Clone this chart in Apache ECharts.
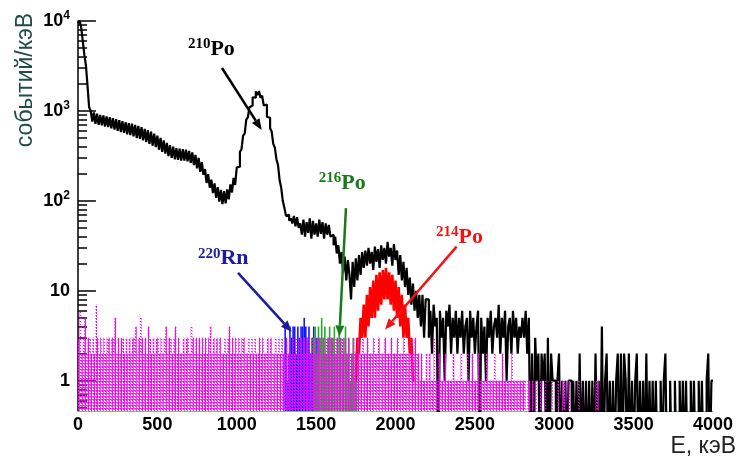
<!DOCTYPE html>
<html>
<head>
<meta charset="utf-8">
<script src="https://cdn.jsdelivr.net/npm/echarts@6/dist/echarts.min.js"></script>
<style>
  html, body { margin: 0; padding: 0; background: #fff; }
  #main { width: 740px; height: 463px; }
</style>
</head>
<body>
<div id="main"></div>
<script>
// ширина бина, кэВ
var binW = 10;

// чёрная гистограмма (все события), бины по 10 кэВ от 0
var blackCounts = [
  9500, 10000, 8500, 6000, 4200, 3200, 1900, 1100, 1000, 760, 960, 720, 930, 700, 900, 690, 890, 670, 870, 660,
  850, 640, 830, 620, 810, 600, 790, 580, 770, 570, 750, 550, 730, 540, 720, 520, 700, 500, 680, 490,
  660, 470, 630, 450, 610, 430, 590, 410, 560, 395, 530, 370, 500, 350, 470, 335, 440, 315, 415, 300,
  400, 290, 385, 285, 380, 280, 375, 280, 370, 275, 360, 265, 345, 250, 325, 230, 300, 210, 270, 195,
  225, 158, 198, 140, 172, 122, 156, 108, 142, 98, 132, 92, 128, 94, 134, 104, 152, 124, 180, 150,
  235, 240, 350, 375, 530, 560, 800, 850, 1100, 1150, 1420, 1400, 1650, 1500, 1660, 1400, 1480, 1150, 1180, 860,
  840, 640, 590, 430, 390, 290, 250, 170, 140, 100, 84, 68, 70, 60, 64, 56, 68, 52, 66, 50,
  56, 42, 62, 40, 58, 44, 64, 38, 60, 42, 56, 40, 62, 43, 58, 38, 56, 42, 54, 40,
  42, 32, 40, 26, 32, 20, 27, 16, 24, 13, 22, 15, 8, 21, 11, 23, 13, 25, 15, 27,
  18, 28, 19, 30, 20, 27, 17, 31, 21, 29, 18, 32, 22, 30, 20, 35, 24, 30, 19, 33,
  22, 28, 15, 25, 13, 21, 11, 18, 9, 14, 7, 12, 6, 10, 5, 9, 4, 9, 3, 8,
  8, 3, 6, 2, 7, 4, 5, 0, 6, 3, 5, 1, 6, 4, 7, 2, 5, 3, 6, 2,
  5, 3, 6, 2, 4, 5, 1, 6, 3, 5, 2, 4, 6, 0, 5, 2, 4, 1, 5, 3,
  6, 2, 4, 5, 3, 7, 2, 5, 3, 6, 1, 4, 5, 2, 6, 3, 5, 2, 4, 3,
  5, 3, 6, 2, 5, 0, 2, 0, 3, 1, 2, 0, 2, 1, 2, 0, 3, 0, 2, 1,
  1, 0, 1, 2, 0, 1, 0, 1, 0, 1, 1, 0, 1, 0, 1, 0, 2, 0, 1, 0,
  1, 0, 1, 0, 1, 0, 2, 0, 1, 0, 4, 0, 1, 2, 0, 1, 0, 1, 0, 1,
  2, 0, 2, 0, 2, 1, 0, 2, 0, 1, 0, 1, 2, 0, 1, 0, 1, 0, 2, 0,
  1, 0, 1, 0, 1, 0, 0, 1, 0, 1, 2, 0, 0, 1, 0, 0, 1, 0, 0, 1,
  0, 1, 0, 1, 0, 0, 1, 0, 1, 0, 0, 1, 0, 1, 0, 0, 1, 2, 0, 1
];

// розовая (точечная) гистограмма, от 0
var magentaCounts = [
  3, 6, 2, 3, 5, 2, 3, 3, 2, 3, 2, 7, 3, 2, 3, 2, 3, 2, 3, 3,
  2, 3, 3, 5, 2, 3, 2, 3, 3, 2, 3, 2, 3, 2, 3, 3, 4, 2, 3, 5,
  3, 2, 3, 2, 4, 3, 2, 3, 2, 3, 3, 2, 3, 2, 3, 4, 2, 3, 3, 2,
  3, 4, 2, 3, 2, 2, 3, 2, 3, 3, 2, 4, 3, 2, 3, 2, 3, 2, 3, 2,
  3, 2, 3, 4, 2, 3, 2, 3, 2, 3, 2, 2, 3, 2, 3, 4, 2, 3, 2, 3,
  2, 3, 2, 3, 3, 2, 2, 3, 2, 3, 2, 3, 2, 2, 3, 2, 3, 2, 2, 3,
  2, 3, 2, 2, 3, 2, 3, 2, 3, 2, 2, 3, 2, 3, 2, 3, 2, 3, 2, 3,
  3, 2, 3, 2, 3, 3, 2, 3, 2, 3, 2, 3, 3, 2, 3, 2, 3, 3, 2, 3,
  3, 2, 3, 3, 2, 3, 3, 2, 3, 2, 3, 2, 2, 3, 2, 2, 3, 2, 2, 3,
  2, 2, 3, 2, 2, 2, 3, 2, 2, 3, 2, 2, 2, 3, 2, 2, 2, 3, 2, 2,
  2, 3, 2, 2, 2, 3, 2, 2, 2, 3, 2, 2, 3, 2, 2, 1, 2, 1, 1, 2,
  1, 2, 1, 1, 3, 1, 1, 2, 1, 1, 1, 2, 1, 1, 1, 1, 2, 1, 1, 1,
  1, 2, 1, 1, 1, 2, 1, 1, 2, 1, 1, 1, 2, 1, 1, 1, 1, 2, 1, 1,
  1, 1, 2, 1, 1, 1, 1, 2, 1, 1, 1, 1, 1, 2, 1, 1, 1, 1, 1, 1,
  1, 1, 0, 1, 1, 0, 1, 0, 1, 0, 0, 1, 0, 0, 1, 0, 0, 0, 1, 0,
  0, 0, 1, 0, 0, 1, 1, 0, 0, 1, 0, 0, 0, 0, 0, 1, 0, 0, 0, 0,
  0, 0, 0, 0, 0, 0, 1, 1, 0, 0
];

// 220Rn (синяя), 216Po (зелёная), 214Po (красная)
var blueStart = 1300;
var blueCounts = [4, 1, 2, 4, 3, 4, 4, 2, 4, 3, 4, 4, 5, 4, 3, 4, 2, 3, 4, 2, 3, 1];
var greenStart = 1480;
var greenCounts = [3, 4, 2, 4, 3, 5, 3, 4, 2, 3, 4, 3, 3, 4, 2, 3, 4, 3, 2, 3, 4, 2, 3, 1, 2, 3, 1, 2];
var redStart = 1750;
var redCounts = [1, 3, 2, 5, 3, 7, 3, 9, 4, 11, 5, 13, 5, 15, 6, 16, 7, 17, 8, 18,
                 8, 16, 7, 15, 6, 13, 5, 11, 4, 9, 3, 7, 3, 5, 2, 3, 1];

// деления логарифмической оси Y
var yMajorTicks = [1, 10, 100, 1000, 10000];
var yMinorTicks = [0.5, 0.6, 0.7, 0.8, 0.9, 2, 3, 4, 5, 6, 7, 8, 9,
                   20, 30, 40, 50, 60, 70, 80, 90, 200, 300, 400, 500, 600, 700, 800, 900,
                   2000, 3000, 4000, 5000, 6000, 7000, 8000, 9000];
// длина делений по оси X, кэВ (≈18 и ≈9 пикселей)
var majorTickLen = 113;
var minorTickLen = 57;

// подписи и стрелки (в координатах графика: кэВ, событий/кэВ)
var labelNums = ['210', '220', '216', '214'];
var labelNames = ['Po', 'Rn', 'Po', 'Po'];
var labelColors = ['#000000', '#1c1ca0', '#1a7a1a', '#f01414'];
var labelAt = [[840, 4890], [915, 22.7], [1665, 158], [2403, 39.8]];
var arrowFrom = [[907, 3000], [1008, 15.8], [1688, 83], [2385, 31]];
var arrowTo = [[1157, 615], [1346, 3.5], [1646, 3.1], [1934, 3.7]];

var font = 'Arial, "Liberation Sans", sans-serif';
var serif = '"Times New Roman", "Liberation Serif", serif';

// нули на логарифмической оси уводим ниже нижней границы
function lo(v) { return v > 0 ? v : 0.1; }

function stepData(start, counts) {
  var d = counts.map(function (c, i) { return [start + i * binW, lo(c)]; });
  d.push([start + counts.length * binW, lo(counts[counts.length - 1])]);
  return d;
}

// точечная заливка для розовой гистограммы
var cnv = document.createElement('canvas');
cnv.width = 3; cnv.height = 3;
var cx = cnv.getContext('2d');
cx.fillStyle = '#ff00ff';
cx.fillRect(0, 0, 3, 1);
cx.fillRect(0, 1, 2, 1);
cx.fillRect(1, 2, 1, 1);
var magentaFill = { image: cnv, repeat: 'repeat' };

function barSeries(name, start, counts, fill, z) {
  return {
    type: 'custom',
    name: name,
    z: z,
    clip: true,
    data: counts.map(function (c, i) { return [start + i * binW, c]; }),
    renderItem: function (params, api) {
      var c = api.value(1);
      if (!(c > 0)) return null;
      var x0 = api.value(0);
      var p = api.coord([x0, c]);
      var p2 = api.coord([x0 + binW, c]);
      var bottom = params.coordSys.y + params.coordSys.height;
      return {
        type: 'rect',
        shape: { x: p[0], y: p[1], width: p2[0] - p[0], height: bottom - p[1] },
        style: { fill: fill }
      };
    }
  };
}

// деления оси Y — отрезки markLine в координатах графика
var tickLines = yMajorTicks.map(function (v) { return [{ coord: [0, v] }, { coord: [majorTickLen, v] }]; })
  .concat(yMinorTicks.map(function (v) { return [{ coord: [0, v] }, { coord: [minorTickLen, v] }]; }));

var chart = echarts.init(document.getElementById('main'));

chart.setOption({
  animation: false,
  backgroundColor: '#fff',
  grid: { left: 78, right: 27, top: 21, bottom: 52 },
  xAxis: {
    type: 'value',
    min: 0,
    max: 4000,
    interval: 500,
    axisLine: { show: true, lineStyle: { color: '#7ac27a', width: 1 } },
    axisTick: { show: false },
    splitLine: { show: false },
    axisLabel: {
      color: '#000', fontSize: 18, fontWeight: 'bold', fontFamily: font, margin: 5,
      formatter: function (v) { return String(v); }
    }
  },
  yAxis: {
    type: 'log',
    logBase: 10,
    min: 0.46,
    max: 10000,
    axisLine: { show: true, lineStyle: { color: '#000', width: 1.5 } },
    axisTick: { show: false },
    minorTick: { show: false },
    splitLine: { show: false },
    axisLabel: {
      color: '#000', fontSize: 18, fontWeight: 'bold', fontFamily: font, margin: 8,
      formatter: function (v) {
        var l = Math.log10(v), e = Math.round(l);
        if (Math.abs(l - e) > 1e-6) return '';
        if (e === 0) return '1';
        if (e === 1) return '10';
        return '10{s|' + e + '}';
      },
      rich: { s: { fontSize: 12, fontWeight: 'bold', fontFamily: font, color: '#000', verticalAlign: 'top', lineHeight: 22 } }
    }
  },
  series: [
    {
      type: 'line', name: 'все', step: 'end', z: 2, showSymbol: false, silent: true,
      lineStyle: { color: '#000', width: 2.2 },
      data: stepData(0, blackCounts)
    },
    barSeries('220Rn', blueStart, blueCounts, '#1414ff', 3),
    barSeries('216Po', greenStart, greenCounts, '#2aa82a', 3),
    {
      type: 'line', name: '214Po', step: 'end', z: 4, showSymbol: false, silent: true,
      lineStyle: { color: '#ff0000', width: 2.6 },
      data: stepData(redStart, redCounts)
    },
    barSeries('фон', 0, magentaCounts, magentaFill, 5),
    {
      type: 'line', name: 'деления', z: 9, showSymbol: false, silent: true,
      data: [],
      markLine: {
        silent: true,
        symbol: ['none', 'none'],
        animation: false,
        label: { show: false },
        emphasis: { disabled: true },
        lineStyle: { color: '#000', width: 1.5, type: 'solid' },
        data: tickLines
      }
    }
  ]
});

// подписи осей, изотопы и стрелки
var toPx = function (pt) { return chart.convertToPixel({ xAxisIndex: 0, yAxisIndex: 0 }, pt); };
var g = [];

g.push({
  type: 'text', x: 26, y: 80, rotation: Math.PI / 2, z: 10,
  style: { text: 'событий/кэВ', font: '23px ' + font, fill: '#234b48', align: 'center', verticalAlign: 'middle' }
});
g.push({
  type: 'text', x: 736, y: 447, z: 10,
  style: { text: 'E, кэВ', font: '23px ' + font, fill: '#222', align: 'right', verticalAlign: 'middle' }
});

labelNums.forEach(function (n, i) {
  var p = toPx(labelAt[i]);
  g.push({
    type: 'text', x: p[0], y: p[1], z: 10,
    style: {
      text: '{n|' + n + '}{e|' + labelNames[i] + '}',
      align: 'center', verticalAlign: 'middle',
      rich: {
        n: { fontSize: 15, fontWeight: 'bold', fontFamily: serif, fill: labelColors[i], verticalAlign: 'top', lineHeight: 24 },
        e: { fontSize: 22, fontWeight: 'bold', fontFamily: serif, fill: labelColors[i], lineHeight: 24 }
      }
    }
  });
  var a = toPx(arrowFrom[i]);
  var b = toPx(arrowTo[i]);
  var dx = b[0] - a[0], dy = b[1] - a[1], len = Math.sqrt(dx * dx + dy * dy);
  var ux = dx / len, uy = dy / len, hl = 11, hw = 4.5;
  var bx = b[0] - ux * hl, by = b[1] - uy * hl;
  g.push({
    type: 'line', z: 10,
    shape: { x1: a[0], y1: a[1], x2: bx, y2: by },
    style: { stroke: labelColors[i], lineWidth: 2.5 }
  });
  g.push({
    type: 'polygon', z: 10,
    shape: { points: [[b[0], b[1]], [bx - uy * hw, by + ux * hw], [bx + uy * hw, by - ux * hw]] },
    style: { fill: labelColors[i] }
  });
});

chart.setOption({ graphic: g });
</script>
</body>
</html>
